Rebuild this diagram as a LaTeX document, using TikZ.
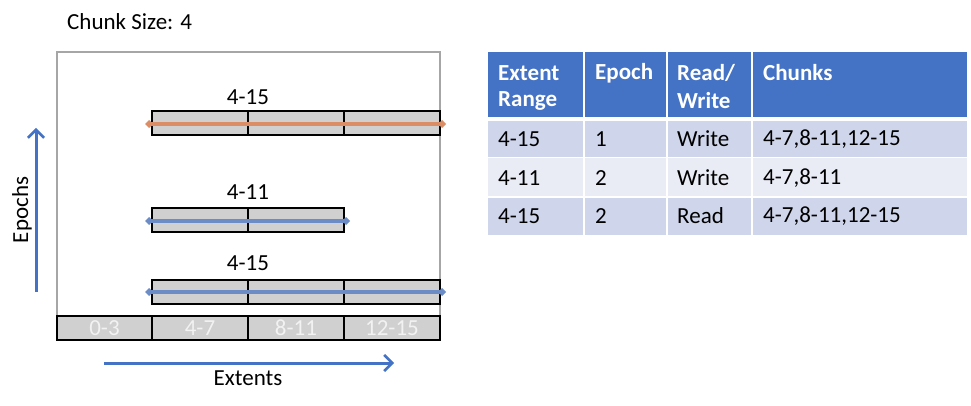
\documentclass[tikz,border=0pt]{standalone}
\usepackage{fontspec}
\setmainfont{Carlito}
\usetikzlibrary{arrows.meta}
\definecolor{accblue}{HTML}{4472C4}
\definecolor{lineorange}{HTML}{DB8D66}
\definecolor{lineblue}{HTML}{6C8CC6}
\definecolor{cellgray}{HTML}{D0D0D0}
\definecolor{rowdark}{HTML}{CFD5EA}
\definecolor{rowlight}{HTML}{E9EBF5}
\definecolor{framegray}{HTML}{A6A6A6}
\tikzset{
  txt/.style={font=\fontsize{23}{28}\selectfont, inner sep=0pt},
  chunkcell/.style={draw=black, line width=1.3pt, fill=cellgray, minimum height=24pt, inner sep=0pt, outer sep=0pt},
  axiscell/.style={chunkcell, text=white!95!black, font=\fontsize{23}{28}\selectfont},
  extline/.style={line width=3.2pt, {Turned Square[length=8pt,width=8pt]}-{Turned Square[length=8pt,width=8pt]}},
  axisarrow/.style={draw=accblue, line width=3pt, -{Straight Barb[length=8pt,width=16pt,line width=2.6pt]}},
  hdrtxt/.style={txt, text=white, font=\fontsize{23}{28}\selectfont\bfseries, anchor=west},
  bodytxt/.style={txt, anchor=west},
}
\begin{document}
\begin{tikzpicture}[x=1pt,y=-1pt]
\useasboundingbox (0,0) rectangle (971,406);

% caption
\node[txt, anchor=west] (chunksize) at (67,22) {Chunk Size: 4};

% plot frame
\draw[framegray, line width=1.3pt] (57,316) -- (57,52) -- (440,52) -- (440,316);

% extent axis cells
\node[axiscell, minimum width=95pt] (ax0) at (104.5,328) {0-3};
\node[axiscell, minimum width=96pt] (ax1) at (200,328) {4-7};
\node[axiscell, minimum width=96pt] (ax2) at (296,328) {8-11};
\node[axiscell, minimum width=96pt] (ax3) at (392,328) {12-15};

% epoch 1, write 4-15
\node[chunkcell, minimum width=96pt] (t1) at (200,123) {};
\node[chunkcell, minimum width=96pt] (t2) at (296,123) {};
\node[chunkcell, minimum width=96pt] (t3) at (392,123) {};
\node[txt] (tl) at (248,97) {4-15};
\coordinate (ta) at (145,124);
\coordinate (tb) at (446,124);
\draw[extline, draw=lineorange, fill=lineorange] (ta) -- (tb);

% epoch 2, write 4-11
\node[chunkcell, minimum width=96pt] (m1) at (200,220) {};
\node[chunkcell, minimum width=96pt] (m2) at (296,220) {};
\node[txt] (ml) at (248,192) {4-11};
\coordinate (ma) at (145,221);
\coordinate (mb) at (350,221);
\draw[extline, draw=lineblue, fill=lineblue] (ma) -- (mb);

% epoch 2, read 4-15
\node[chunkcell, minimum width=96pt] (b1) at (200,292) {};
\node[chunkcell, minimum width=96pt] (b2) at (296,292) {};
\node[chunkcell, minimum width=96pt] (b3) at (392,292) {};
\node[txt] (bl) at (248,263) {4-15};
\coordinate (ba) at (145,292);
\coordinate (bb) at (446,292);
\draw[extline, draw=lineblue, fill=lineblue] (ba) -- (bb);

% axes
\coordinate (ey0) at (36,292);
\coordinate (ey1) at (36,128);
\draw[axisarrow] (ey0) -- (ey1);
\node[txt, rotate=90] (epochs) at (22,210) {Epochs};
\coordinate (ex0) at (104,363);
\coordinate (ex1) at (394,363);
\draw[axisarrow] (ex0) -- (ex1);
\node[txt] (extents) at (248,378) {Extents};

% table backgrounds
\foreach \xa/\xb in {488/583, 585/666, 668/751, 753/967} {
  \fill[accblue] (\xa,52) rectangle (\xb,117);
  \fill[rowdark] (\xa,121) rectangle (\xb,157);
  \fill[rowlight] (\xa,158.5) rectangle (\xb,196.5);
  \fill[rowdark] (\xa,198) rectangle (\xb,235);
}

% header
\node[hdrtxt] (h1a) at (498,73) {Extent};
\node[hdrtxt] (h1b) at (498,101) {Range};
\node[hdrtxt] (h2) at (595,73) {Epoch};
\node[hdrtxt] (h3a) at (677,73) {Read/};
\node[hdrtxt] (h3b) at (677,101) {Write};
\node[hdrtxt] (h4) at (763,73) {Chunks};

% rows
\node[bodytxt] (r1a) at (498,139) {4-15};
\node[bodytxt] (r1b) at (595,139) {1};
\node[bodytxt] (r1c) at (677,139) {Write};
\node[bodytxt] (r1d) at (763,139) {4-7,8-11,12-15};

\node[bodytxt] (r2a) at (498,178) {4-11};
\node[bodytxt] (r2b) at (595,178) {2};
\node[bodytxt] (r2c) at (677,178) {Write};
\node[bodytxt] (r2d) at (763,178) {4-7,8-11};

\node[bodytxt] (r3a) at (498,216) {4-15};
\node[bodytxt] (r3b) at (595,216) {2};
\node[bodytxt] (r3c) at (677,216) {Read};
\node[bodytxt] (r3d) at (763,216) {4-7,8-11,12-15};
\end{tikzpicture}
\end{document}
